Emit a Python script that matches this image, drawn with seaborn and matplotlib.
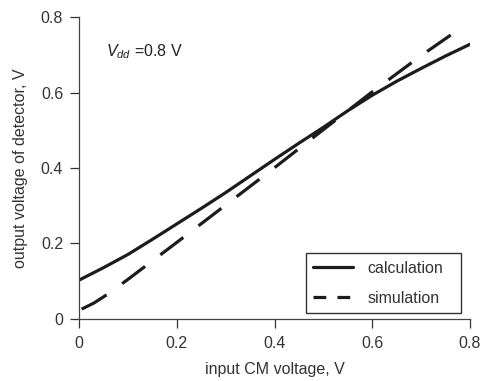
import numpy as np
import pandas as pd
import matplotlib
matplotlib.use("Agg")
import matplotlib.pyplot as plt
import seaborn as sns

# values
calc_x = [0.0, 0.05, 0.1, 0.15, 0.2, 0.25, 0.3, 0.35, 0.4, 0.45, 0.5, 0.55, 0.6, 0.65, 0.7, 0.75, 0.8]
calc_y = [0.103, 0.136, 0.171, 0.211, 0.252, 0.293, 0.335, 0.379, 0.423, 0.466, 0.508, 0.552, 0.593, 0.630, 0.664, 0.697, 0.728]
sim_x = [0.005, 0.03, 0.06, 0.1, 0.15, 0.2, 0.3, 0.4, 0.5, 0.6, 0.7, 0.79]
sim_y = [0.026, 0.042, 0.067, 0.105, 0.154, 0.203, 0.302, 0.401, 0.502, 0.602, 0.698, 0.779]
series = ["calculation", "simulation"]

df = pd.concat([
    pd.DataFrame({"x": calc_x, "y": calc_y, "kind": series[0]}),
    pd.DataFrame({"x": sim_x, "y": sim_y, "kind": series[1]}),
])

sns.set_style("ticks")
plt.rcParams["font.family"] = ["Liberation Sans", "DejaVu Sans"]
plt.rcParams["mathtext.fontset"] = "custom"
plt.rcParams["mathtext.it"] = "Liberation Sans:italic"
plt.rcParams["mathtext.rm"] = "Liberation Sans"

fig = plt.figure(figsize=(4.83, 3.81), dpi=100)
ax = fig.add_axes([0.164, 0.163, 0.809, 0.792])

ink = "#1c1c1c"
fs = 11.5
sns.lineplot(data=df, x="x", y="y", style="kind", style_order=series,
             dashes={"calculation": "", "simulation": (9, 6)},
             color=ink, linewidth=2.3, ax=ax, sort=False)

ax.set_xlim(0, 0.8)
ax.set_ylim(0, 0.8)
ax.set_xticks([0, 0.2, 0.4, 0.6, 0.8])
ax.set_yticks([0, 0.2, 0.4, 0.6, 0.8])
ax.set_xticklabels(["0", "0.2", "0.4", "0.6", "0.8"])
ax.set_yticklabels(["0", "0.2", "0.4", "0.6", "0.8"])
ax.tick_params(colors="#333333", labelsize=fs, length=6.5, width=0.9)
ax.tick_params(axis="x", pad=6)
ax.tick_params(axis="y", pad=5)
for s in ["top", "right"]:
    ax.spines[s].set_visible(False)
for s in ["left", "bottom"]:
    ax.spines[s].set_color("#444444")
    ax.spines[s].set_linewidth(0.9)

ax.set_xlabel("input CM voltage, V", fontsize=fs, color="#333333", labelpad=8)
ax.set_ylabel("output voltage of detector, V", fontsize=fs, color="#333333", labelpad=9)

ax.text(0.069, 0.884, r"$V_{dd}$ =0.8 V", transform=ax.transAxes,
        fontsize=fs, color="#222222", va="center")

leg = ax.legend(loc="lower left", bbox_to_anchor=(0.58, 0.02, 0.397, 0.19),
                mode="expand", borderaxespad=0, fancybox=False, framealpha=1,
                edgecolor="#333333", fontsize=fs, handlelength=2.5,
                handletextpad=0.9, labelspacing=0.95, borderpad=0.45, title=None)
leg.get_frame().set_linewidth(1.0)
for t in leg.get_texts():
    t.set_color("#333333")
leg.get_lines()[1].set_dashes((4, 3.5))

fig.savefig("out.png", dpi=100)
